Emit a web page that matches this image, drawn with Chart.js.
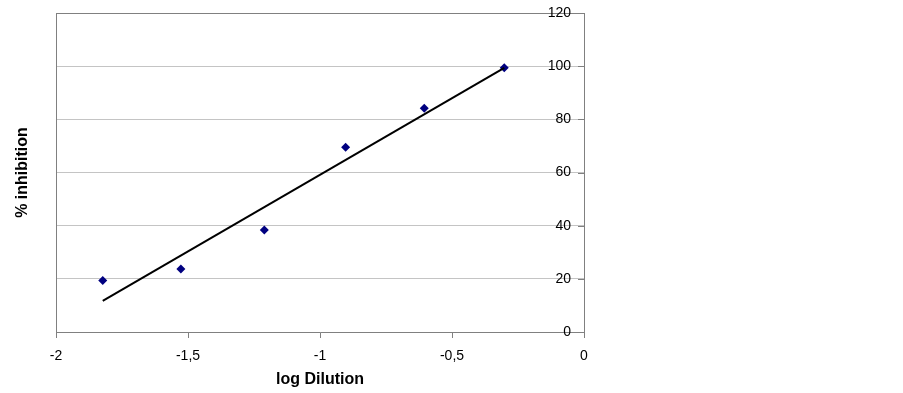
<!DOCTYPE html>
<html lang="en">
<head>
    <meta charset="UTF-8">
    <title>% inhibition vs log Dilution</title>
    <script src="https://cdn.jsdelivr.net/npm/chart.js"></script>
    <style>
        body {
            margin: 0;
            background-color: #ffffff;
        }
        #wrap {
            position: relative;
            width: 903px;
            height: 393px;
        }
    </style>
</head>
<body>
    <div id="wrap">
        <canvas id="graph"></canvas>
    </div>

    <script>
        // measured points
        const logDilution = [-1.823, -1.527, -1.211, -0.903, -0.605, -0.302];
        const inhibition = [19.4, 23.7, 38.4, 69.5, 84.2, 99.4];

        // trend line end points
        const trendX = [-1.823, -0.302];
        const trendY = [11.7, 99.4];

        const xTicks = [-2, -1.5, -1, -0.5, 0];
        const xTickLabels = ['-2', '-1,5', '-1', '-0,5', '0'];
        const yTicks = [0, 20, 40, 60, 80, 100, 120];
        const yTickLabels = ['0', '20', '40', '60', '80', '100', '120'];

        const borderGray = '#808080';
        const gridGray = '#c4c4c4';
        const font = 'Liberation Sans, Arial, sans-serif';

        function noPad(scale) {
            scale.paddingTop = 0;
            scale.paddingBottom = 0;
            scale.paddingLeft = 0;
            scale.paddingRight = 0;
        }

        // small tick marks on the inner side of the right axis
        const innerTicks = {
            id: 'innerTicks',
            afterDatasetsDraw(chart) {
                const s = chart.scales.y;
                const c = chart.ctx;
                c.save();
                c.strokeStyle = borderGray;
                c.lineWidth = 1;
                s.ticks.forEach(t => {
                    const py = Math.round(s.getPixelForValue(t.value)) + 0.5;
                    c.beginPath();
                    c.moveTo(s.left - 6, py);
                    c.lineTo(s.left, py);
                    c.stroke();
                });
                c.restore();
            }
        };

        const ctx = document.getElementById('graph').getContext('2d');
        new Chart(ctx, {
            type: 'scatter',
            data: {
                datasets: [
                    {
                        label: 'trend',
                        type: 'line',
                        data: trendX.map((x, i) => ({ x: x, y: trendY[i] })),
                        borderColor: '#000000',
                        borderWidth: 2,
                        pointRadius: 0,
                        fill: false,
                        yAxisID: 'y'
                    },
                    {
                        label: '% inhibition',
                        data: logDilution.map((x, i) => ({ x: x, y: inhibition[i] })),
                        backgroundColor: '#000080',
                        borderColor: '#000080',
                        pointStyle: 'rectRot',
                        pointRadius: 4.5,
                        borderWidth: 0,
                        yAxisID: 'y'
                    }
                ]
            },
            options: {
                responsive: true,
                maintainAspectRatio: false,
                animation: false,
                layout: { padding: { top: 13, left: 0, right: 0, bottom: 0 } },
                plugins: {
                    legend: { display: false },
                    tooltip: { enabled: false }
                },
                scales: {
                    x: {
                        type: 'linear',
                        position: 'bottom',
                        min: -2,
                        max: 0,
                        afterBuildTicks: s => { s.ticks = xTicks.map(v => ({ value: v })); },
                        afterFit: s => { s.height = 61; noPad(s); },
                        ticks: {
                            callback: (v, i) => xTickLabels[i],
                            color: '#000000',
                            font: { family: font, size: 14 },
                            padding: 10,
                            maxRotation: 0
                        },
                        grid: {
                            drawOnChartArea: false,
                            tickLength: 6,
                            color: borderGray
                        },
                        border: { color: borderGray, width: 1 },
                        title: {
                            display: true,
                            text: 'log Dilution',
                            color: '#000000',
                            font: { family: font, size: 16, weight: 'bold' }
                        }
                    },
                    y: {
                        type: 'linear',
                        position: 'right',
                        min: 0,
                        max: 120,
                        afterBuildTicks: s => { s.ticks = yTicks.map(v => ({ value: v })); },
                        afterFit: s => { s.width = 319; noPad(s); },
                        ticks: {
                            mirror: true,
                            padding: -13,
                            callback: (v, i) => yTickLabels[i],
                            color: '#000000',
                            font: { family: font, size: 14 }
                        },
                        grid: {
                            drawTicks: false,
                            color: c => (c.tick && c.tick.value === 120) ? borderGray : gridGray,
                            lineWidth: 1
                        },
                        border: { color: borderGray, width: 1 }
                    },
                    yLeft: {
                        type: 'linear',
                        position: 'left',
                        min: 0,
                        max: 120,
                        afterFit: s => { s.width = 56; noPad(s); },
                        ticks: { display: false },
                        grid: { display: false, drawTicks: false },
                        border: { color: borderGray, width: 1 },
                        title: {
                            display: true,
                            text: '% inhibition',
                            color: '#000000',
                            padding: { top: 13, bottom: 4 },
                            font: { family: font, size: 16, weight: 'bold' }
                        }
                    }
                }
            },
            plugins: [innerTicks]
        });
    </script>
</body>
</html>
